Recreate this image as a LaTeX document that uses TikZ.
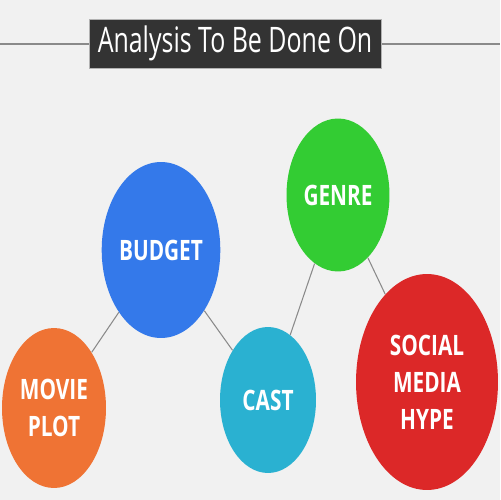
\documentclass[tikz,border=0pt]{standalone}
\usepackage{xcolor}
\usepackage{fontspec}
\usepackage{tikz}
\usetikzlibrary{shapes}
\setmainfont{Open Sans}
\newfontfamily\labelfont[FakeStretch=0.74]{Open Sans}
\newfontfamily\titlefont[FakeStretch=0.71]{Open Sans}
\definecolor{paper}{HTML}{F1F1F1}
\definecolor{rulegray}{HTML}{8A8A8A}
\definecolor{bannergray}{HTML}{333333}
\definecolor{plotorange}{HTML}{EF7334}
\definecolor{budgetblue}{HTML}{3479EA}
\definecolor{castcyan}{HTML}{2AB1D1}
\definecolor{genregreen}{HTML}{33CC33}
\definecolor{hypered}{HTML}{DC2828}

\begin{document}
\begin{tikzpicture}[x=0.02cm, y=-0.02cm]
  \tikzstyle{topic} = [ellipse, inner sep=0pt, text=white, align=center, font=\labelfont\bfseries\fontsize{16}{21}\selectfont]
  \tikzstyle{banner} = [rectangle, fill=bannergray, draw=gray!60, line width=0.4pt, minimum width=5.84cm, minimum height=0.98cm, text=white, font=\titlefont\fontsize{20}{24}\selectfont]
  \tikzstyle{line} = [draw, rulegray, line width=0.6pt]

  \fill [paper] (0,0) rectangle (500,500);
  \useasboundingbox (0,0) rectangle (500,500);

  \coordinate (ruleleft) at (0,44);
  \coordinate (ruleright) at (500,44);
  \path [line] (ruleleft) -- (ruleright);
  \node [banner] (title) at (235,43.5) {Analysis To Be Done On};

  \node [topic, fill=plotorange, minimum width=2.08cm, minimum height=3.2cm] (plot) at (54,408) {MOVIE\\PLOT};
  \node [topic, fill=budgetblue, minimum width=2.34cm, minimum height=3.52cm] (budget) at (161,250) {BUDGET};
  \node [topic, fill=castcyan, minimum width=1.92cm, minimum height=2.92cm] (cast) at (268,400) {CAST};
  \node [topic, fill=genregreen, minimum width=2.06cm, minimum height=3.06cm] (genre) at (338,195) {GENRE};
  \node [topic, fill=hypered, minimum width=2.84cm, minimum height=4.32cm] (hype) at (427,382) {SOCIAL\\MEDIA\\HYPE};

  \path [line] (plot) -- (budget);
  \path [line] (budget) -- (cast);
  \path [line] (cast) -- (genre);
  \path [line] (genre) -- (hype);
\end{tikzpicture}
\end{document}
